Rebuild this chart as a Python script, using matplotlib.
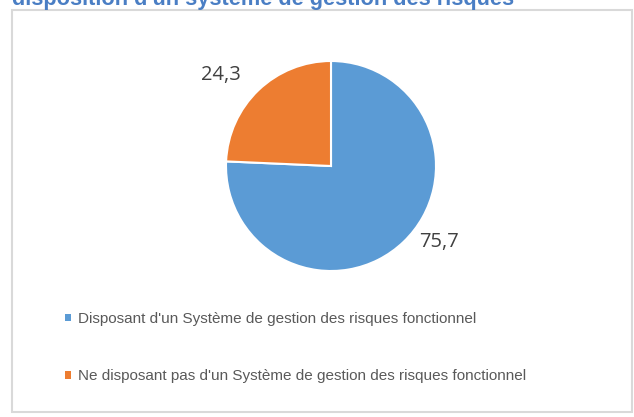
import matplotlib.pyplot as plt
from matplotlib.patches import Rectangle, Patch
import numpy as np

title = "disposition d'un système de gestion des risques"
categories = ["Disposant d'un Système de gestion des risques fonctionnel",
              "Ne disposant pas d'un Système de gestion des risques fonctionnel"]
values = [75.7, 24.3]
value_labels = ["75,7", "24,3"]
colors = ['#5B9BD5', '#ED7D31']

W, H = 634, 417
fig = plt.figure(figsize=(W / 100, H / 100), dpi=100)

# cadre gris du graphique
fig.patches.append(Rectangle((12 / W, 5 / H), 620 / W, 402 / H, transform=fig.transFigure,
                             fill=False, edgecolor='#D9D9D9', linewidth=1.5))

# titre coupé en haut (comme dans la capture)
fig.text(12 / W, 1 - 5 / H, title, ha='left', va='baseline', fontsize=15.7,
         fontweight='bold', color='#4A7EC4', family='Liberation Sans')

# camembert
cx, cy, r = 331, 166, 105
ax = fig.add_axes([(cx - r) / W, (H - cy - r) / H, 2 * r / W, 2 * r / H])
wedges, _ = ax.pie(values, colors=colors, startangle=90, counterclock=False,
                   wedgeprops=dict(edgecolor='white', linewidth=1.5))
ax.set_xlim(-1, 1)
ax.set_ylim(-1, 1)

# étiquettes de valeurs (position type "ajustement optimal" d'Excel)
shift = [12, 6]
dist = [1.25, 1.37]
for w, lab, s, d in zip(wedges, value_labels, shift, dist):
    ang = np.deg2rad((w.theta1 + w.theta2) / 2 + s)
    ax.text(d * np.cos(ang), d * np.sin(ang) - 0.02, lab, ha='center', va='center',
            fontsize=14.5, color='#404040', family='Open Sans')

handles = [Patch(facecolor=c, edgecolor='none') for c in colors]
fig.legend(handles, categories, loc='upper left', bbox_to_anchor=(51 / W, 1 - 298 / H),
           frameon=False, labelspacing=2.86, handlelength=0.38,
           handleheight=0.38, handletextpad=0.5, labelcolor='#595959',
           prop={'family': 'Liberation Sans', 'size': 11})

fig.savefig('out.png', dpi=100)
